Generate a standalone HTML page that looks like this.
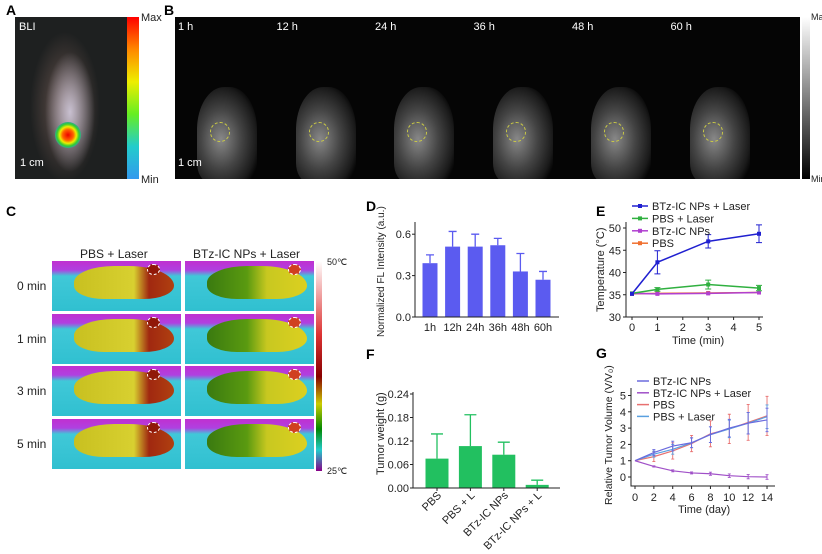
<!DOCTYPE html>
<html><head><meta charset="utf-8"><style>
body{margin:0;width:822px;height:554px;background:#fff;position:relative;overflow:hidden;font-family:"Liberation Sans",sans-serif;}
.a{position:absolute;}
.lbl{position:absolute;font-weight:bold;font-size:14px;}
.t{position:absolute;font-size:11px;color:#222;white-space:nowrap;}
.ir{position:absolute;background:linear-gradient(180deg,#c030d0 0%,#b040e0 18%,#40c8d8 30%,#30c0d0 100%);overflow:hidden;}
.body{position:absolute;border-radius:40% 45% 30% 30%/50% 60% 40% 40%;}
</style></head><body>
<div class="lbl" style="left:6px;top:2px">A</div>
<div class="a" style="left:15px;top:17px;width:112px;height:162px;background:radial-gradient(ellipse 25px 60px at 55px 95px,#c8c0d0,transparent),radial-gradient(ellipse 35px 75px at 50px 90px,#6a5650,transparent),#1e2020;">
<div class="a" style="left:40px;top:105px;width:26px;height:26px;border-radius:50%;background:radial-gradient(circle,#e00 0,#f60 30%,#ee0 45%,#3c3 60%,#38d 80%,transparent 100%)"></div>
<div class="t" style="left:4px;top:4px;color:#fff">BLI</div>
<div class="t" style="left:5px;top:140px;color:#fff">1 cm</div></div>
<div class="a" style="left:127px;top:17px;width:12px;height:162px;background:linear-gradient(#f00,#f80,#ee0,#6e2,#2cc,#39e)"></div>
<div class="t" style="left:141px;top:12px">Max</div><div class="t" style="left:141px;top:174px">Min</div>
<div class="lbl" style="left:164px;top:2px">B</div>
<div class="a" style="left:175px;top:17px;width:625px;height:162px;background:#050505;overflow:hidden" id="strip"></div>
<div class="a" style="left:802px;top:17px;width:8px;height:162px;background:linear-gradient(#fff,#000)"></div>
<div class="t" style="left:811px;top:12px;font-size:9px">Max</div><div class="t" style="left:811px;top:174px;font-size:9px">Min</div>

<div class="lbl" style="left:6px;top:203px">C</div>
<div class="t" style="left:80px;top:247px;font-size:12px">PBS + Laser</div>
<div class="t" style="left:193px;top:247px;font-size:12px">BTz-IC NPs + Laser</div>
<div id="ir"></div>
<div class="a" style="left:316px;top:261px;width:6px;height:210px;background:linear-gradient(#fff,#d33 35%,#800 55%,#cc0 68%,#080 80%,#2cc 90%,#808)"></div>
<div class="t" style="left:327px;top:257px;font-size:9px">50℃</div><div class="t" style="left:327px;top:466px;font-size:9px">25℃</div>

<div class="lbl" style="left:366px;top:198px">D</div>
<div class="lbl" style="left:596px;top:203px">E</div>
<div class="lbl" style="left:366px;top:346px">F</div>
<div class="lbl" style="left:596px;top:345px">G</div>
<svg class="a" style="left:0;top:0" width="822" height="554" id="sv" font-family="Liberation Sans, sans-serif"></svg>
<script>
// Panel D data
const dCats=["1h","12h","24h","36h","48h","60h"];
const dVals=[0.39,0.51,0.51,0.52,0.33,0.27];
const dErr=[0.06,0.11,0.09,0.05,0.13,0.06];
const dTicks=[0,0.3,0.6];
// Panel E data
const eTimes=[0,1,3,5];
const eBTzL=[35.2,42.3,47.0,48.7];
const eBTzLErr=[0,2.6,1.5,2.0];
const ePBSL=[35.3,36.2,37.3,36.5];
const ePBSLErr=[0,0.4,1.0,0.6];
const eBTz=[35.3,35.2,35.3,35.5];
const ePBS=[35.2,35.3,35.4,35.5];
const eYTicks=[30,35,40,45,50];
const eXTicks=[0,1,2,3,4,5];
// Panel F data
const fCats=["PBS","PBS + L","BTz-IC NPs","BTz-IC NPs + L"];
const fVals=[0.075,0.107,0.085,0.008];
const fErr=[0.063,0.08,0.032,0.012];
const fTicks=[0,0.06,0.12,0.18,0.24];
// Panel G data
const gDays=[0,2,4,6,8,10,12,14];
const gBTz=[1,1.5,1.9,2.1,2.6,3.0,3.3,3.5];
const gBTzL=[1,0.65,0.38,0.25,0.2,0.08,0.02,0.0];
const gPBS=[1,1.25,1.6,2.05,2.65,2.95,3.35,3.75];
const gPBSL=[1,1.4,1.7,2.1,2.6,2.95,3.3,3.7];
const gErr=[0,0.3,0.5,0.5,0.8,0.9,1.1,1.2];
const gYTicks=[0,1,2,3,4,5];
const gXTicks=[0,2,4,6,8,10,12,14];
const bTimes=["1 h","12 h","24 h","36 h","48 h","60 h"];
const cRows=["0 min","1 min","3 min","5 min"];

const sv=document.getElementById('sv');const NS='http://www.w3.org/2000/svg';
function el(t,a,p){const e=document.createElementNS(NS,t);for(const k in a)e.setAttribute(k,a[k]);(p||sv).appendChild(e);return e;}
function tx(x,y,s,a){const e=el('text',Object.assign({x:x,y:y,'font-size':11,fill:'#222'},a||{}));e.textContent=s;return e;}

// B strip
const strip=document.getElementById('strip');
bTimes.forEach((s,i)=>{const x=i*98.5;
 const m=document.createElement('div');m.className='a';m.style.cssText=`left:${x+22}px;top:70px;width:60px;height:95px;border-radius:45% 45% 20% 20%;background:radial-gradient(ellipse at 40% 55%,#888,#444 40%,#1a1a1a 70%,transparent 80%)`;
 
 strip.appendChild(m);
 const c=document.createElement('div');c.className='a';c.style.cssText=`left:${x+35}px;top:105px;width:18px;height:18px;border-radius:50%;border:1px dashed #cc4`;strip.appendChild(c);
 const l=document.createElement('div');l.className='t';l.style.cssText=`left:${x+3}px;top:4px;color:#fff`;l.textContent=s;strip.appendChild(l);});
const sc=document.createElement('div');sc.className='t';sc.style.cssText='left:3px;top:140px;color:#fff';sc.textContent='1 cm';strip.appendChild(sc);

// C thermal grid
const ir=document.getElementById('ir');
cRows.forEach((r,i)=>{const y=261+i*52.5;
 const l=document.createElement('div');l.className='t';l.style.cssText=`left:17px;top:${y+18}px;font-size:12px`;l.textContent=r;ir.appendChild(l);
 [52,185].forEach((x,j)=>{const d=document.createElement('div');d.className='ir';d.style.cssText=`left:${x}px;top:${y}px;width:129px;height:50px`;
  
  
  const b=document.createElement('div');b.className='body';b.style.cssText=`left:22px;top:5px;width:100px;height:33px;background:`+(j?'linear-gradient(90deg,#3a7a10,#5a9a10 40%,#c8c820 60%,#dcd020)':'linear-gradient(90deg,#c8c020,#d8d030 60%,#a02810 75%,#b04010)');d.appendChild(b);
  const h=document.createElement('div');h.className='a';h.style.cssText=`left:${j?103:95}px;top:3px;width:11px;height:9px;border-radius:50%;border:1px dashed #fff;background:${j?'#d04020':'#901808'}`;d.appendChild(h);
  ir.appendChild(d);});});

// Panel D
(function(){const x0=415,yb=317,k=138,xr=559;const ys=v=>yb-v*k;
 const g=el('g',{});
 dCats.forEach((c,i)=>{const cx=430+i*22.6;
  const r=el('rect',{x:cx-7.5,y:ys(dVals[i]),width:15,height:dVals[i]*k,fill:'#5b5bf0'},g);
  
  
  el('path',{d:`M${cx} ${ys(dVals[i])}V${ys(dVals[i]+dErr[i])}M${cx-4} ${ys(dVals[i]+dErr[i])}h8`,stroke:'#5b5bf0','stroke-width':1.3},g);
  tx(cx,yb+14,c,{'text-anchor':'middle'});});
 el('path',{d:`M${x0} 222V${yb}H${xr}`,stroke:'#222',fill:'none'},g);
 dTicks.forEach(t=>{el('line',{x1:x0-3,x2:x0,y1:ys(t),y2:ys(t),stroke:'#222'},g);tx(x0-4,ys(t)+4,t.toFixed(1),{'text-anchor':'end'});});
 tx(0,0,'Normalized FL Intensity (a.u.)',{transform:'translate(384,337) rotate(-90)','font-size':10});})();

// Panel E
(function(){const x0=626,xs=t=>632+t*25.4,ys=v=>317-(v-30)*4.45;
 el('path',{d:`M${x0} 222V317H763`,stroke:'#222',fill:'none'});
 eYTicks.forEach(t=>{el('line',{x1:x0-3,x2:x0,y1:ys(t),y2:ys(t),stroke:'#222'});tx(x0-5,ys(t)+4,t,{'text-anchor':'end'});});
 eXTicks.forEach(t=>{el('line',{x1:xs(t),x2:xs(t),y1:317,y2:320,stroke:'#222'});tx(xs(t),331,t,{'text-anchor':'middle'});});
 tx(672,344,'Time (min)');tx(0,0,'Temperature (°C)',{transform:'translate(604,312) rotate(-90)'});
 const ser=[['pbs',ePBS,null,'#f07030'],['btz',eBTz,null,'#b040d0'],['pbs-laser',ePBSL,ePBSLErr,'#30b040'],['btz-laser',eBTzL,eBTzLErr,'#2020d0']];
 ser.forEach(([n,v,e,c])=>{const p=el('polyline',{points:eTimes.map((t,i)=>xs(t)+','+ys(v[i])).join(' '),stroke:c,fill:'none','stroke-width':1.5});
  
  
  eTimes.forEach((t,i)=>{el('rect',{x:xs(t)-2,y:ys(v[i])-2,width:4,height:4,fill:c});if(e&&e[i])el('path',{d:`M${xs(t)} ${ys(v[i]-e[i])}V${ys(v[i]+e[i])}M${xs(t)-3} ${ys(v[i]-e[i])}h6M${xs(t)-3} ${ys(v[i]+e[i])}h6`,stroke:c});});});
 [['BTz-IC NPs + Laser','#2020d0'],['PBS + Laser','#30b040'],['BTz-IC NPs','#b040d0'],['PBS','#f07030']].forEach(([s,c],i)=>{const y=206+i*12.4;
  el('line',{x1:632,x2:648,y1:y,y2:y,stroke:c,'stroke-width':1.5});el('rect',{x:638,y:y-2,width:4,height:4,fill:c});tx(652,y+4,s);});})();

// Panel F
(function(){const x0=413,yb=488,ys=v=>yb-v*391.7;
 fCats.forEach((c,i)=>{const cx=437+i*33.4;
  const r=el('rect',{x:cx-11.5,y:ys(fVals[i]),width:23,height:fVals[i]*391.7,fill:'#22c060'});
  
  
  const top=ys(fVals[i]+fErr[i]);
  el('path',{d:`M${cx} ${ys(fVals[i])}V${top}M${cx-6} ${top}h12`,stroke:'#22c060','stroke-width':1.3});
  el('line',{x1:cx,x2:cx,y1:yb,y2:yb+3,stroke:'#222'});
  tx(cx+5,yb+8,c,{'text-anchor':'end',transform:`rotate(-45 ${cx+5} ${yb+8})`});});
 el('path',{d:`M${x0} 392V${yb}H560`,stroke:'#222',fill:'none'});
 fTicks.forEach(t=>{el('line',{x1:x0-3,x2:x0,y1:ys(t),y2:ys(t),stroke:'#222'});tx(x0-4,ys(t)+4,t.toFixed(2),{'text-anchor':'end'});});
 tx(0,0,'Tumor weight (g)',{transform:'translate(384,475) rotate(-90)'});})();

// Panel G
(function(){const x0=631,yb=486,xs=d=>635+d*9.43,ys=v=>477-v*16.3;
 el('path',{d:`M${x0} 388V${yb}H775`,stroke:'#222',fill:'none'});
 gYTicks.forEach(t=>{el('line',{x1:x0-3,x2:x0,y1:ys(t),y2:ys(t),stroke:'#222'});tx(x0-5,ys(t)+4,t,{'text-anchor':'end'});});
 gXTicks.forEach(t=>{el('line',{x1:xs(t),x2:xs(t),y1:yb,y2:yb+3,stroke:'#222'});tx(xs(t),yb+15,t,{'text-anchor':'middle'});});
 tx(678,513,'Time (day)');tx(0,0,'Relative Tumor Volume (V/V₀)',{transform:'translate(612,505) rotate(-90)','font-size':10.5});
 const ser=[['pbs',gPBS,'#e87070'],['pbs-laser',gPBSL,'#5aa0e0'],['btz',gBTz,'#6a6ade'],['btz-laser',gBTzL,'#a050c8']];
 ser.forEach(([n,v,c],si)=>{const p=el('polyline',{points:gDays.map((d,i)=>xs(d)+','+ys(v[i])).join(' '),stroke:c,fill:'none','stroke-width':1.2});
  
  
  gDays.forEach((d,i)=>{const e=si==3?gErr[i]*0.12:gErr[i]*(si==0?1:0.6);if(e>0)el('path',{d:`M${xs(d)} ${ys(v[i]-e)}V${ys(v[i]+e)}M${xs(d)-1.5} ${ys(v[i]-e)}h3M${xs(d)-1.5} ${ys(v[i]+e)}h3`,stroke:c,'stroke-width':0.9});});});
 [['BTz-IC NPs','#6a6ade'],['BTz-IC NPs + Laser','#a050c8'],['PBS','#e87070'],['PBS + Laser','#5aa0e0']].forEach(([s,c],i)=>{const y=381+i*11.8;
  el('line',{x1:637,x2:649,y1:y,y2:y,stroke:c,'stroke-width':1.5});tx(653,y+4,s);});})();
</script>
</body></html>
